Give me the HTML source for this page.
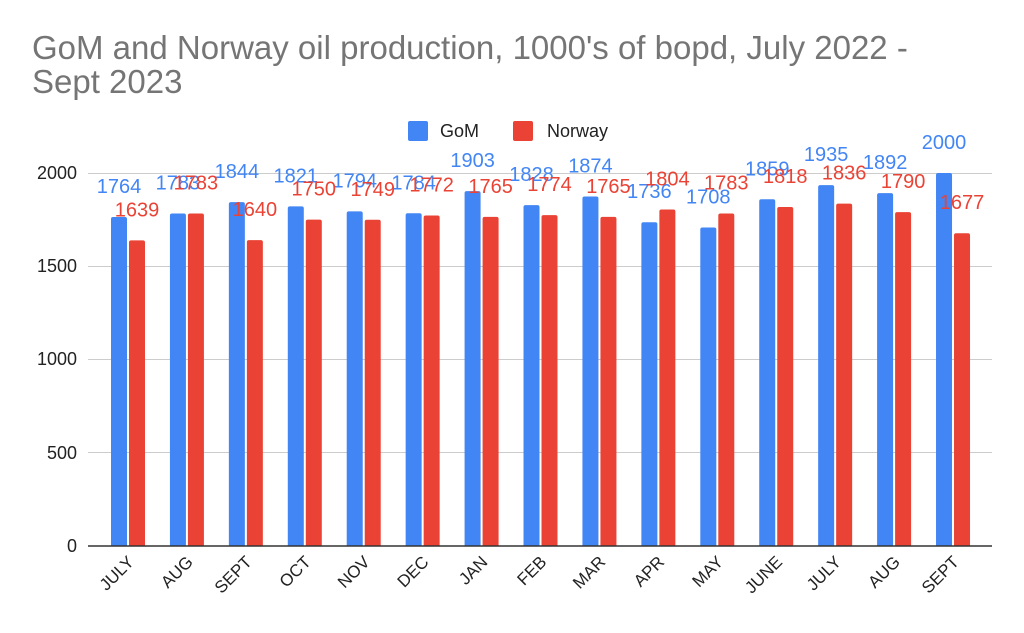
<!DOCTYPE html>
<html><head><meta charset="utf-8"><style>
body{margin:0;background:#fff}
svg{display:block;font-family:"Liberation Sans",Arial,sans-serif}
</style></head><body>
<svg width="1024" height="633" viewBox="0 0 1024 633">
<text x="32" y="59" font-size="33" fill="#757575">GoM and Norway oil production, 1000's of bopd, July 2022 -</text>
<text x="32" y="93" font-size="33" fill="#757575">Sept 2023</text>
<rect x="408" y="121" width="20" height="20" rx="2" fill="#4285f4"/>
<text x="440" y="137" font-size="18" fill="#222">GoM</text>
<rect x="513" y="121" width="20" height="20" rx="2" fill="#ea4335"/>
<text x="547" y="137" font-size="18" fill="#222">Norway</text>
<g stroke="#ccc" stroke-width="1">
<line x1="88" x2="992" y1="173.5" y2="173.5"/>
<line x1="88" x2="992" y1="266.5" y2="266.5"/>
<line x1="88" x2="992" y1="359.5" y2="359.5"/>
<line x1="88" x2="992" y1="452.5" y2="452.5"/>
</g>
<g font-size="18" fill="#222" text-anchor="end">
<text x="77" y="179">2000</text>
<text x="77" y="272">1500</text>
<text x="77" y="365">1000</text>
<text x="77" y="459">500</text>
<text x="77" y="552">0</text>
</g>
<g id="bars"></g>
<line x1="88" x2="992" y1="546" y2="546" stroke="#333" stroke-width="1.5"/>
<g id="lbl"></g>
</svg>
<script>
var g=[1764,1783,1844,1821,1794,1784,1903,1828,1874,1736,1708,1859,1935,1892,2000];
var n=[1639,1783,1640,1750,1749,1772,1765,1774,1765,1804,1783,1818,1836,1790,1677];
var m=["JULY","AUG","SEPT","OCT","NOV","DEC","JAN","FEB","MAR","APR","MAY","JUNE","JULY","AUG","SEPT"];
var s="",L="",gl="",nl="";var k=373/2000,w=58.93;
function bar(x,v,c){var t=546-v*k;return '<path d="M'+x+' 546V'+(t+2)+'q0 -2 2 -2h12q2 0 2 2V546Z" fill="'+c+'"/>';}
for(var i=0;i<15;i++){var gx=111+w*i,nx=gx+18,c=gx+17;
s+=bar(gx,g[i],"#4285f4")+bar(nx,n[i],"#ea4335");
gl+='<text x="'+(gx+8)+'" y="'+(546-g[i]*k-24)+'" fill="#4285f4">'+g[i]+'</text>';
nl+='<text x="'+(nx+8)+'" y="'+(546-n[i]*k-24)+'" fill="#ea4335">'+n[i]+'</text>';
L+='<text transform="translate('+(c+7)+',563) rotate(-45)" text-anchor="end" fill="#222">'+m[i]+'</text>';}
document.getElementById("bars").innerHTML=s;
document.getElementById("lbl").innerHTML='<g font-size="20" text-anchor="middle">'+gl+nl+'</g><g font-size="17">'+L+'</g>';
</script>
</body></html>
